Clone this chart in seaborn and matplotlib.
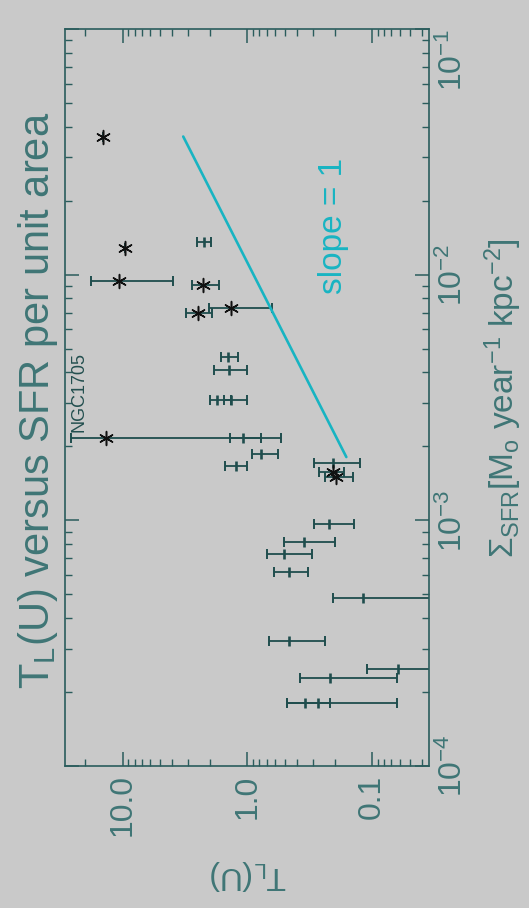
import matplotlib
matplotlib.use("Agg")
import matplotlib.pyplot as plt
import numpy as np
import pandas as pd
import seaborn as sns
from matplotlib.ticker import FixedLocator, LogLocator, NullFormatter

# ---------------- data (chart is drawn rotated by 90 degrees) ----------------
# points marked with an asterisk
star_T     = [14.3, 9.58, 10.8, 2.28, 2.48, 1.35, 13.5, 0.2065, 0.194]
star_T_hi  = [14.3, 9.58, 17.8, 2.78, 3.10, 2.04, 25.8, 0.266, 0.238]
star_T_lo  = [14.3, 9.58, 3.95, 1.69, 1.91, 0.63, 0.54, 0.167, 0.142]
star_sfr   = [0.0365, 0.0128, 0.00942, 0.00908, 0.00697, 0.0073, 0.00216, 0.001578, 0.001507]

# points marked with a short tick only
tick_T     = [2.24, 1.42, 1.41, 1.75, 1.36, 1.08, 0.771, 1.24, 0.2065, 0.22, 0.35, 0.507,
              0.462, 0.118, 0.462, 0.0625, 0.217, 0.343, 0.27]
tick_T_hi  = [2.53, 1.64, 1.86, 1.98, 1.55, 1.37, 0.912, 1.50, 0.290, 0.294, 0.513, 0.699,
              0.61, 0.2065, 0.67, 0.109, 0.379, 0.482, 0.482]
tick_T_lo  = [1.95, 1.20, 1.00, 1.36, 1.00, 0.78, 0.573, 1.00, 0.126, 0.141, 0.197, 0.305,
              0.328, 0.02, 0.238, 0.02, 0.0628, 0.217, 0.0628]
tick_sfr   = [0.0136, 0.00464, 0.00409, 0.00309, 0.00309, 0.00216, 0.00186, 0.00167, 0.001706,
              0.000964, 0.000818, 0.000728, 0.000615, 0.000482, 0.000323, 0.000248, 0.000228,
              0.000180, 0.000180]

slope_sfr = [0.00181, 0.0365]
slope_T   = [0.161, 3.27]

T_ticks = [10.0, 1.0, 0.1]
T_ticklabels = ["10.0", "1.0", "0.1"]
sfr_ticks = [1e-4, 1e-3, 1e-2, 1e-1]
sfr_ticklabels = ["$10^{-4}$", "$10^{-3}$", "$10^{-2}$", "$10^{-1}$"]

title = "T$_{\\rm L}$(U) versus SFR per unit area"
t_label = "T$_{\\rm L}$(U)"
sfr_label = "\u03a3$_{\\rm SFR}$[M$_{\\rm o}$ year$^{-1}$ kpc$^{-2}$]"
slope_text = "slope = 1"
ngc_text = "NGC1705"

# ---------------- style ----------------
BG = "#c9c9c9"
FRAME = "#2a5c5c"
TEXT = "#3f7676"
BAR = "#1f4d4d"
CYAN = "#18b4c2"

sns.set_style("ticks")
plt.rcParams["font.family"] = ["Liberation Sans", "DejaVu Sans"]
plt.rcParams["mathtext.fontset"] = "custom"
plt.rcParams["mathtext.rm"] = "Liberation Sans"
plt.rcParams["mathtext.it"] = "Liberation Sans:italic"
plt.rcParams["mathtext.bf"] = "Liberation Sans:bold"

W, H = 529, 908
fig = plt.figure(figsize=(W / 100, H / 100), dpi=100, facecolor=BG)
L, R, T, B = 65, 429, 29, 766
ax = fig.add_axes([L / W, 1 - B / H, (R - L) / W, (B - T) / H])
ax.set_facecolor(BG)
ax.set_xscale("log")
ax.set_yscale("log")
ax.set_xlim(29, 0.035)
ax.set_ylim(1e-4, 1e-1)

# error bars
def bars(Tc, hi, lo, s):
    Tc = np.array(Tc); hi = np.array(hi); lo = np.array(lo)
    ax.errorbar(Tc, s, xerr=[Tc - lo, hi - Tc], fmt="none", ecolor=BAR,
                elinewidth=1.3, capsize=3.6, capthick=1.4, zorder=2)

bars(star_T, star_T_hi, star_T_lo, star_sfr)
bars(tick_T, tick_T_hi, tick_T_lo, tick_sfr)

df_tick = pd.DataFrame({"T": tick_T, "sfr": tick_sfr})
sns.scatterplot(data=df_tick, x="T", y="sfr", marker="|", s=55, color=BAR,
                linewidth=1.9, ax=ax, zorder=3, legend=False)
df_star = pd.DataFrame({"T": star_T, "sfr": star_sfr})
sns.scatterplot(data=df_star, x="T", y="sfr", marker=(6, 2, 0), s=100, color="#111111",
                linewidth=1.1, ax=ax, zorder=4, legend=False)

df_slope = pd.DataFrame({"T": slope_T, "sfr": slope_sfr})
sns.lineplot(data=df_slope, x="T", y="sfr", color=CYAN, linewidth=1.9, ax=ax,
             sort=False, estimator=None, zorder=3)

ax.text(0.205, 0.0158, slope_text, rotation=90, color=CYAN, fontsize=24,
        ha="center", va="center")
ax.text(22.5, 0.00228, ngc_text, rotation=90, color="#234f4f", fontsize=13,
        ha="center", va="bottom")

# axes, ticks
for sp in ax.spines.values():
    sp.set_color(FRAME)
    sp.set_linewidth(1.2)
    sp.set_visible(True)

ax.xaxis.set_major_locator(FixedLocator(T_ticks))
ax.set_xticklabels(T_ticklabels, rotation=90)
ax.xaxis.set_minor_locator(LogLocator(base=10, subs=np.arange(2, 10)))
ax.xaxis.set_minor_formatter(NullFormatter())
ax.yaxis.set_major_locator(FixedLocator(sfr_ticks))
ax.set_yticklabels(sfr_ticklabels, rotation=90, va="center")
ax.yaxis.set_minor_locator(LogLocator(base=10, subs=np.arange(2, 10)))
ax.yaxis.set_minor_formatter(NullFormatter())

ax.tick_params(axis="both", which="both", direction="in", top=True, bottom=True,
               left=True, right=True, color=FRAME, labelcolor=TEXT)
ax.tick_params(axis="x", which="both", labelbottom=True, labeltop=False)
ax.tick_params(axis="y", which="both", labelleft=False, labelright=True)
ax.tick_params(which="major", length=10, width=1.1, labelsize=23, pad=6)
ax.tick_params(which="minor", length=5, width=1.0)
ax.set_xlabel("")
ax.set_ylabel("")

# keep the top label inside the picture
top_tick = ax.yaxis.get_major_ticks()[-1]
top_tick.label1.set_va("top")
top_tick.label2.set_va("top")

fig.text(38 / W, 1 - 400 / H, title, rotation=90, color=TEXT, fontsize=30,
         ha="center", va="center")
fig.text(248 / W, 1 - 875 / H, t_label, rotation=180, color=TEXT, fontsize=23,
         ha="center", va="center")
fig.text(503 / W, 1 - 398 / H, sfr_label, rotation=90, color=TEXT, fontsize=24,
         ha="center", va="center")

fig.savefig("out.png", dpi=100, facecolor=BG)
